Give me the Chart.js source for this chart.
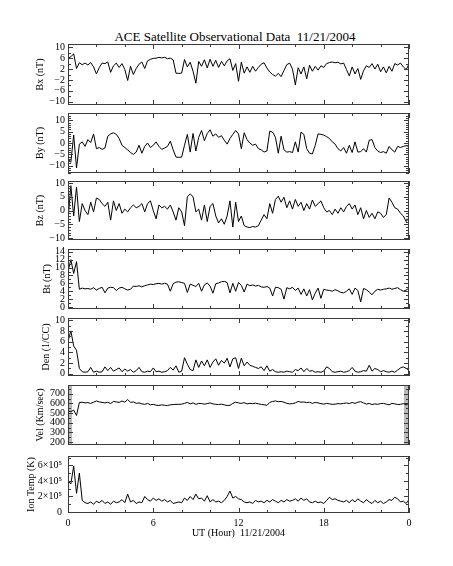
<!DOCTYPE html>
<html>
<head>
<meta charset="utf-8">
<script src="https://cdn.jsdelivr.net/npm/chart.js@4.4.0/dist/chart.umd.min.js"></script>
<style>
  html, body { margin: 0; background: #fff; }
  #pagina { position: relative; width: 453px; height: 566px; overflow: hidden; background: #fff; }
  #pagina canvas { position: absolute; left: 0; }
  #titulo { position: absolute; left: 0; width: 470px; top: 29px; text-align: center;
            font: 13px/15px "Liberation Serif", serif; white-space: pre; color: #000; }
</style>
</head>
<body>
<div id="pagina">
  <div id="titulo">ACE Satellite Observational Data  11/21/2004</div>
</div>
<script>
// leituras a cada 0.2 h (0 .. 24 h)
const bx = [6.0,6.5,7.6,2.2,4.3,3.6,4.2,3.5,4.4,2.8, 0.2,2.5,4.2,4.0,4.6,0.8,3.2,4.2,2.6,4.0,
  1.8,-2.2,3.0,0.0,2.2,3.8,4.6,2.2,5.0,5.6, 5.9,6.0,6.3,6.1,6.3,5.8,6.0,5.4,0.5,0.4,
  0.5,5.5,2.8,4.5,1.2,-3.2,4.8,3.0,5.4,2.4, 5.6,3.0,5.2,2.6,4.8,3.2,5.0,5.8,1.5,4.0,
  -2.5,4.5,0.5,2.8,0.8,3.0,1.2,2.6,3.8,4.3, 2.4,0.9,0.0,-0.6,0.4,-0.8,1.5,3.6,4.2,2.0,
  -3.8,2.5,0.2,2.8,-1.6,3.4,1.2,3.0,1.6,3.2, 2.6,4.0,4.4,4.6,4.3,4.5,3.9,4.2,1.8,-0.5,
  2.8,0.2,2.2,-1.8,1.4,3.2,2.6,4.0,2.0,3.8, 1.0,2.8,0.6,3.0,1.2,4.0,3.5,4.2,2.8,1.8, 3.8];

const by = [-7.0,-8.5,3.5,-11.0,-0.5,0.5,-1.5,1.5,0.2,4.0, -2.5,-2.0,-2.8,-2.2,3.0,4.0,4.5,3.8,2.0,-1.0,
  -2.0,-3.0,-4.2,-5.0,-4.0,-1.0,-4.5,-1.5,0.0,-2.0, -1.0,0.5,-1.5,-2.8,-2.2,-1.5,0.8,-3.0,-6.2,-6.3,
  -6.2,-1.0,3.8,-4.0,4.2,-3.5,2.5,5.5,1.0,4.2, 5.8,3.0,4.0,2.5,3.2,1.2,-0.5,2.0,3.8,5.5,
  4.0,-2.5,4.5,1.5,0.0,-1.0,-0.5,-2.5,-3.0,-4.0, -3.5,5.2,4.8,2.5,-4.5,3.0,-3.0,-4.0,-3.8,-4.2,
  0.5,-4.0,4.8,3.8,-2.5,-4.5,-4.8,-1.0,4.0,3.8, 3.5,2.8,2.0,0.5,-0.5,-2.5,-3.5,-2.0,-4.5,-1.0,
  -4.2,0.5,-4.0,-3.8,-2.5,-4.0,1.2,1.5,-2.0,-3.5, -4.2,-3.8,-4.5,-1.5,-3.0,-4.0,-1.5,-2.0,-1.5,-1.2, -1.5];

const bz = [-3.5,9.0,-2.0,8.5,-4.0,2.5,0.0,-1.5,3.0,-0.5, 4.5,4.0,2.5,1.5,3.0,-3.5,3.5,0.0,2.5,-1.0,
  0.5,-0.5,1.0,2.0,1.0,1.5,2.5,-0.5,2.5,3.5, 0.0,-3.0,2.0,1.0,1.5,0.5,2.0,-0.5,-3.5,1.0,
  -0.5,-5.5,5.0,6.0,5.0,-0.5,0.5,-3.5,2.0,-4.0, 1.5,2.5,-2.0,-4.5,-3.0,-5.0,-2.0,3.5,-6.0,3.0,
  -4.0,-2.0,-5.5,-6.0,-6.2,-5.8,-6.0,-5.5,-3.5,-1.5, -3.0,2.5,-1.0,4.0,5.2,3.0,4.8,1.0,3.5,0.5,
  4.0,1.5,3.0,0.0,2.5,0.5,3.8,1.5,2.5,3.5, 1.0,-0.5,0.0,-1.5,0.5,-1.0,1.0,-0.5,1.5,2.5,
  0.5,2.0,-1.5,1.0,-3.0,0.0,-2.5,-1.0,-3.0,-0.5, -1.0,-2.5,-1.5,4.5,3.0,1.0,0.5,-1.0,-2.0,-4.0, -2.5];

const bt = [9.0,12.0,8.5,11.5,4.5,4.8,4.6,4.7,4.5,4.9, 4.3,4.7,5.0,3.6,4.8,5.0,4.9,4.2,4.8,5.0,
  4.6,4.3,4.5,5.3,5.2,5.4,5.1,5.4,5.6,5.8, 5.7,5.9,6.0,5.8,6.0,5.8,4.0,5.9,6.3,6.4,
  6.2,6.0,3.7,5.8,5.5,5.2,6.0,4.0,5.6,6.1, 5.3,3.5,5.9,6.1,6.4,6.5,6.2,3.6,6.0,4.0,
  6.2,5.5,3.8,5.8,5.4,5.6,5.3,5.5,5.1,5.0, 5.2,4.8,2.8,5.0,4.9,4.5,2.0,4.9,4.6,5.0,
  4.2,4.8,3.2,4.6,2.8,4.4,1.8,3.5,4.8,2.2, 4.5,4.3,4.2,4.0,4.4,4.1,3.7,3.6,4.0,4.6,
  3.2,4.8,4.2,1.3,4.7,4.4,3.8,3.1,4.0,4.5, 4.3,4.5,4.6,4.8,4.5,4.7,4.9,4.4,4.0,4.3, 4.8];

const den = [6.0,8.0,5.2,4.4,1.0,0.4,0.3,0.4,1.2,0.3, 0.5,0.3,0.4,1.3,0.6,1.2,0.5,0.8,1.1,0.4,
  0.9,0.5,0.8,0.3,0.6,1.2,0.4,0.3,0.5,0.4, 1.1,0.4,0.5,0.3,0.4,0.6,1.2,0.7,1.5,0.3,
  0.5,3.0,1.8,0.8,0.6,2.6,1.2,2.4,1.5,2.6, 1.2,2.2,2.8,1.6,2.5,2.0,2.9,1.3,2.8,3.0,
  1.0,2.9,1.5,2.2,1.6,1.4,1.2,1.0,1.3,0.6, 1.5,0.5,0.8,0.4,0.3,0.4,0.3,0.5,0.4,0.3,
  0.8,0.6,1.1,0.4,1.0,0.5,0.6,0.3,0.4,0.3, 0.5,1.3,1.0,0.4,0.3,0.4,0.5,0.3,0.4,0.6,
  1.2,0.5,0.3,0.4,0.6,0.5,1.6,0.5,1.0,0.8, 0.4,0.6,0.4,0.3,0.5,0.3,0.7,1.1,1.3,1.0, 0.7];

const vel = [520,515,530,475,610,612,605,608,600,612, 625,615,610,605,612,598,620,615,610,625,
  612,640,610,615,600,605,595,590,600,585, 590,582,578,585,580,578,585,588,590,590,
  592,600,610,595,605,590,600,598,592,598, 605,595,590,588,592,585,578,580,600,612,
  605,600,608,595,600,598,602,595,590,585, 580,610,620,625,618,620,612,600,595,598,
  605,620,612,615,608,612,600,610,605,598, 592,600,595,590,592,598,595,600,605,598,
  610,600,612,618,605,592,600,588,595,590, 598,600,592,585,600,595,588,590,598,585, 600];

const ionTemp = [4.0e5,3.6e5,5.9e5,2.4e5,5.0e5,1.5e5,1.2e5,1.1e5,1.3e5,1.0e5,
  1.4e5,1.2e5,1.5e5,1.1e5,1.3e5,1.0e5,1.4e5,1.2e5,1.3e5,1.6e5,
  1.2e5,2.3e5,1.3e5,1.5e5,1.1e5,1.3e5,1.2e5,2.0e5,1.6e5,1.4e5,
  1.8e5,1.5e5,1.7e5,1.4e5,1.6e5,1.3e5,1.5e5,1.1e5,1.2e5,1.3e5,
  1.2e5,1.8e5,1.5e5,2.0e5,1.6e5,2.3e5,1.7e5,1.8e5,1.4e5,2.1e5,
  1.3e5,1.6e5,1.3e5,1.4e5,1.2e5,1.5e5,2.0e5,2.7e5,1.8e5,2.0e5,
  1.7e5,1.6e5,1.3e5,1.2e5,1.3e5,1.1e5,1.5e5,1.3e5,1.4e5,1.2e5,
  1.5e5,1.3e5,1.6e5,1.4e5,1.2e5,1.5e5,1.3e5,1.6e5,1.4e5,1.5e5,
  1.7e5,1.4e5,1.8e5,1.5e5,1.7e5,1.3e5,1.2e5,1.4e5,1.2e5,1.3e5,
  1.1e5,1.5e5,1.9e5,1.6e5,1.7e5,1.5e5,1.4e5,1.3e5,1.5e5,1.2e5,
  1.6e5,1.3e5,1.7e5,1.4e5,1.2e5,1.6e5,1.3e5,1.1e5,1.5e5,1.2e5,
  1.4e5,1.1e5,1.3e5,1.6e5,1.5e5,1.9e5,1.7e5,1.3e5,1.4e5,1.1e5, 1.6e5];

// faixas cinza (sem dados) no painel de velocidade, em horas
const velFaixas = [[0, 0.3], [23.65, 24]];

// rótulos dos eixos
const horasTicks = [0, 6, 12, 18, 24];
const horasLabels = ["0", "6", "12", "18", "0"];
const bxTicks = [-10, -6, -2, 2, 6, 10];
const byTicks = [-10, -5, 0, 5, 10];
const bzTicks = [-10, -5, 0, 5, 10];
const btTicks = [0, 2, 4, 6, 8, 10, 12, 14];
const denTicks = [0, 2, 4, 6, 8, 10];
const velTicks = [200, 300, 400, 500, 600, 700];
const ionTicks = [0, 2e5, 4e5, 6e5];
const ionLabels = ["0", "2×10⁵", "4×10⁵", "6×10⁵"];

const passoHoras = 0.2;
const horas = bx.map((_, k) => k * passoHoras);

Chart.defaults.font.family = '"Liberation Serif", "DejaVu Serif", serif';
Chart.defaults.font.size = 10;
Chart.defaults.color = "#000";

/* ------------------------------
   Moldura com ticks para dentro
-------------------------------*/
const moldura = {
    id: "moldura",
    afterDatasetsDraw(chart, args, opt) {
        const { ctx, chartArea: a, scales: { x, y } } = chart;
        ctx.save();
        ctx.strokeStyle = "#3a3a3a";
        ctx.lineWidth = 1;
        ctx.strokeRect(a.left + 0.5, a.top + 0.5, a.width - 1, a.height - 1);
        ctx.beginPath();
        for (let h = 0; h <= 24; h += 2) {
            const px = Math.round(x.getPixelForValue(h)) + 0.5;
            const len = h % 6 === 0 ? 5 : 3;
            ctx.moveTo(px, a.top); ctx.lineTo(px, a.top + len);
            ctx.moveTo(px, a.bottom); ctx.lineTo(px, a.bottom - len);
        }
        const inicio = Math.ceil(y.min / opt.menor) * opt.menor;
        for (let v = inicio; v <= y.max; v += opt.menor) {
            const py = Math.round(y.getPixelForValue(v)) + 0.5;
            const len = opt.ticks.includes(v) ? 5 : 3;
            ctx.moveTo(a.left, py); ctx.lineTo(a.left + len, py);
            ctx.moveTo(a.right, py); ctx.lineTo(a.right - len, py);
        }
        ctx.stroke();
        ctx.restore();
    }
};

const paineis = [
    { nome: "Bx (nT)", dados: bx, min: -11.2, max: 11.2, ticks: bxTicks, menor: 2, top: 43, bottom: 106, tituloX: 40 },
    { nome: "By (nT)", dados: by, min: -13.2, max: 13.2, ticks: byTicks, menor: 1, top: 112, bottom: 174, tituloX: 40 },
    { nome: "Bz (nT)", dados: bz, min: -10.7, max: 10.7, ticks: bzTicks, menor: 1, top: 180, bottom: 241, tituloX: 40 },
    { nome: "Bt (nT)", dados: bt, min: -0.5, max: 14.7, ticks: btTicks, menor: 1, top: 248, bottom: 310, tituloX: 47 },
    { nome: "Den (1/CC)", dados: den, min: -0.4, max: 10.4, ticks: denTicks, menor: 1, top: 317, bottom: 377, tituloX: 46 },
    { nome: "Vel (Km/sec)", dados: vel, min: 170, max: 790, ticks: velTicks, menor: 50, top: 384, bottom: 446, tituloX: 40, faixas: velFaixas },
    { nome: "Ion Temp (K)", dados: ionTemp, min: -1.2e4, max: 7.2e5, ticks: ionTicks, rotulos: ionLabels, menor: 1e5, top: 452, bottom: 513, tituloX: 31, padTick: 6 }
];

function montarPainel(p, ultimo) {
    const canvas = document.createElement("canvas");
    const padTop = 8;
    const eixoX = ultimo ? 30 : 0;
    const padBottom = ultimo ? 2 : 8;
    canvas.width = 453;
    canvas.height = (p.bottom - p.top) + padTop + padBottom + eixoX;
    canvas.style.top = (p.top - padTop) + "px";
    document.getElementById("pagina").appendChild(canvas);

    const datasets = [{
        data: p.dados.map((v, k) => ({ x: horas[k], y: v })),
        borderColor: "#000",
        borderWidth: 1,
        pointRadius: 0,
        tension: 0,
        fill: false
    }];
    (p.faixas || []).forEach(([a, b]) => datasets.push({
        data: [{ x: a, y: p.max }, { x: b, y: p.max }],
        borderWidth: 0,
        pointRadius: 0,
        fill: "start",
        backgroundColor: "#b9b9b9"
    }));

    new Chart(canvas, {
        type: "line",
        data: { datasets },
        options: {
            responsive: false,
            animation: false,
            devicePixelRatio: 1,
            layout: { padding: { top: padTop, bottom: padBottom, left: 0, right: 44 } },
            plugins: {
                legend: { display: false },
                tooltip: { enabled: false },
                moldura: { ticks: p.ticks, menor: p.menor }
            },
            scales: {
                x: {
                    type: "linear", min: 0, max: 24, display: ultimo,
                    grid: { display: false, drawTicks: false },
                    border: { display: false },
                    afterBuildTicks: s => { s.ticks = horasTicks.map(v => ({ value: v })); },
                    afterFit: s => { s.height = eixoX; },
                    ticks: { autoSkip: false, maxRotation: 0, padding: 4, callback: (v, k) => horasLabels[k] },
                    title: { display: true, text: "UT (Hour)  11/21/2004", padding: { top: 0, bottom: 4 } }
                },
                y: {
                    type: "linear", min: p.min, max: p.max,
                    grid: { display: false, drawTicks: false },
                    border: { display: false },
                    afterBuildTicks: s => { s.ticks = p.ticks.map(v => ({ value: v })); },
                    afterFit: s => { s.width = 68; },
                    ticks: {
                        autoSkip: false,
                        padding: p.padTick || 3,
                        callback: (v, k) => p.rotulos ? p.rotulos[k] : String(v).replace("-", "−")
                    },
                    title: { display: true, text: p.nome, padding: { top: p.tituloX - 6, bottom: 0 } }
                }
            }
        },
        plugins: [moldura]
    });
}

paineis.forEach((p, k) => montarPainel(p, k === paineis.length - 1));
</script>
</body>
</html>
